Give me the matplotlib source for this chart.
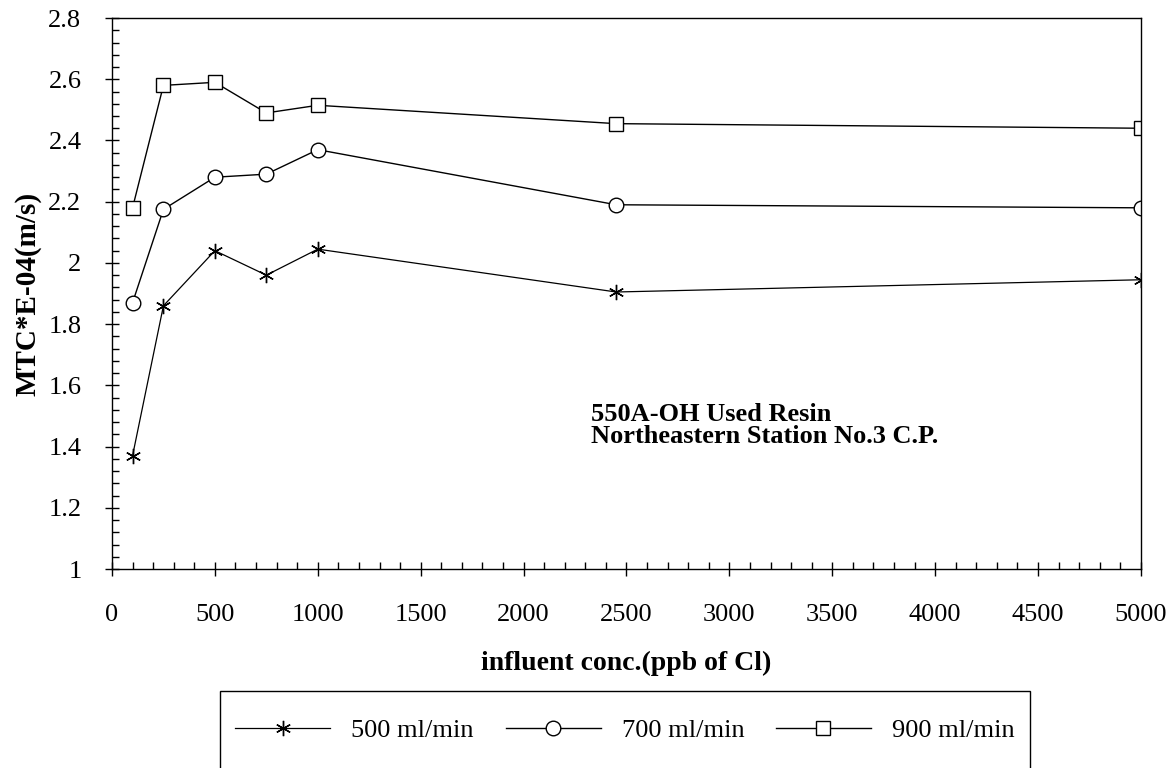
# MTC vs influent concentration, 550A-OH used resin
import numpy as np
import matplotlib
matplotlib.use('Agg')
import matplotlib.pyplot as plt
from matplotlib.ticker import MultipleLocator, FormatStrFormatter
from matplotlib.patches import Rectangle

plt.rcParams['font.family'] = ['Liberation Serif', 'DejaVu Serif']

# data
conc = [100, 250, 500, 750, 1000, 2450, 5000]
mtc_500 = [1.37, 1.86, 2.04, 1.96, 2.045, 1.905, 1.945]
mtc_700 = [1.87, 2.175, 2.28, 2.29, 2.37, 2.19, 2.18]
mtc_900 = [2.18, 2.58, 2.59, 2.49, 2.515, 2.455, 2.44]
labels = ['500 ml/min', '700 ml/min', '900 ml/min']

fig = plt.figure(figsize=(11.75, 7.68), dpi=100)
ax = fig.add_axes([0.0953, 0.2591, 0.8757, 0.7174])

ax.plot(conc, mtc_500, color='black', lw=0.9, marker=(6, 2, 0), ms=11,
        mew=1.0, label=labels[0])
ax.plot(conc, mtc_700, color='black', lw=1.0, marker='o', ms=10.5,
        mfc='white', mec='black', mew=1.0, label=labels[1])
ax.plot(conc, mtc_900, color='black', lw=1.0, marker='s', ms=10,
        mfc='white', mec='black', mew=1.0, label=labels[2])

ax.set_xlim(0, 5000)
ax.set_ylim(1, 2.8)
ax.xaxis.set_major_locator(MultipleLocator(500))
ax.xaxis.set_minor_locator(MultipleLocator(100))
ax.yaxis.set_major_locator(MultipleLocator(0.2))
ax.yaxis.set_minor_locator(MultipleLocator(0.04))
ax.yaxis.set_major_formatter(FormatStrFormatter('%g'))

ax.tick_params(which='major', direction='inout', length=10, width=1,
               labelsize=19)
ax.tick_params(axis='y', which='major', pad=17)
ax.tick_params(axis='x', which='major', pad=20)
ax.tick_params(which='minor', direction='in', length=5, width=1)
for s in ax.spines.values():
    s.set_linewidth(1)

ax.set_xlabel('influent conc.(ppb of Cl)', fontsize=20, fontweight='bold',
              labelpad=18)
ax.set_ylabel('MTC*E-04(m/s)', fontsize=21, fontweight='bold', labelpad=5)

ax.text(2330, 1.47, '550A-OH Used Resin\nNortheastern Station No.3 C.P.',
        fontsize=19, fontweight='bold', va='center', ha='left',
        linespacing=0.95)

leg = fig.legend(loc='center', bbox_to_anchor=(625 / 1175, 1 - 730 / 768),
                 ncol=3, frameon=False, fontsize=19, handlelength=3.6,
                 columnspacing=1.2, handletextpad=0.8)
fig.patches.append(Rectangle((220 / 1175, -0.05), 810 / 1175, 0.05 + 77 / 768,
                             transform=fig.transFigure, fill=False,
                             edgecolor='black', lw=1))

fig.savefig('out.png', dpi=100)
